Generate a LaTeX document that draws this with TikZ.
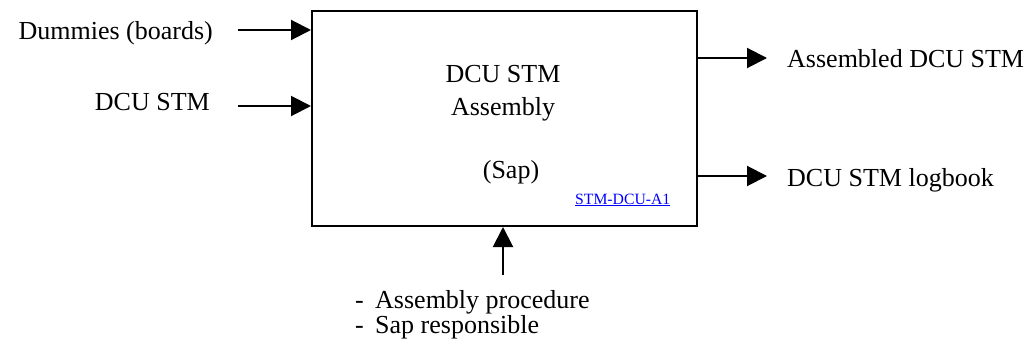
\documentclass[tikz,border=0pt]{standalone}
\usepackage{fontspec}
\setmainfont{Liberation Serif}
\usetikzlibrary{arrows.meta}
\begin{document}
\begin{tikzpicture}[x=1pt,y=-1pt,
  lbl/.style={inner sep=0pt, font=\fontsize{26}{30}\selectfont},
  flow/.style={line width=2pt, -{Triangle[length=20pt,width=20pt]}},
  linktext/.style={inner sep=0pt, font=\fontsize{15.7}{18}\selectfont, text=blue}]
  \useasboundingbox (0,0) rectangle (1035,345);

  % process box
  \node[draw, line width=2pt, minimum width=385pt, minimum height=215pt,
        anchor=north west, inner sep=0pt] (box) at (311,10) {};
  \node[lbl, anchor=base] (t1) at (503,82) {DCU STM};
  \node[lbl, anchor=base] (t2) at (503,115) {Assembly};
  \node[lbl, anchor=base] (t3) at (511,178) {(Sap)};
  \node[linktext, anchor=base west] (ref) at (575,204) {\underline{STM-DCU-A1}};

  % inputs
  \node[lbl, anchor=base east] (in1) at (213,40) {Dummies (boards)};
  \node[lbl, anchor=base east] (in2) at (210,110) {DCU STM};
  \coordinate (s1) at (238,30);
  \coordinate (s2) at (238,106);
  \draw[flow] (s1) -- (s1 -| box.west);
  \draw[flow] (s2) -- (s2 -| box.west);

  % outputs
  \coordinate (e1) at (767,58);
  \coordinate (e2) at (767,176);
  \draw[flow] (e1 -| box.east) -- (e1);
  \draw[flow] (e2 -| box.east) -- (e2);
  \node[lbl, anchor=base west] (out1) at (787,67) {Assembled DCU STM};
  \node[lbl, anchor=base west] (out2) at (787,186) {DCU STM logbook};

  % mechanisms
  \coordinate (m0) at (503,275);
  \draw[flow] (m0) -- (m0 |- box.south);
  \node[lbl, anchor=base west] (d1) at (355,308) {-};
  \node[lbl, anchor=base west] (m1) at (375,308) {Assembly procedure};
  \node[lbl, anchor=base west] (d2) at (355,333) {-};
  \node[lbl, anchor=base west] (m2) at (375,333) {Sap responsible};
\end{tikzpicture}
\end{document}
